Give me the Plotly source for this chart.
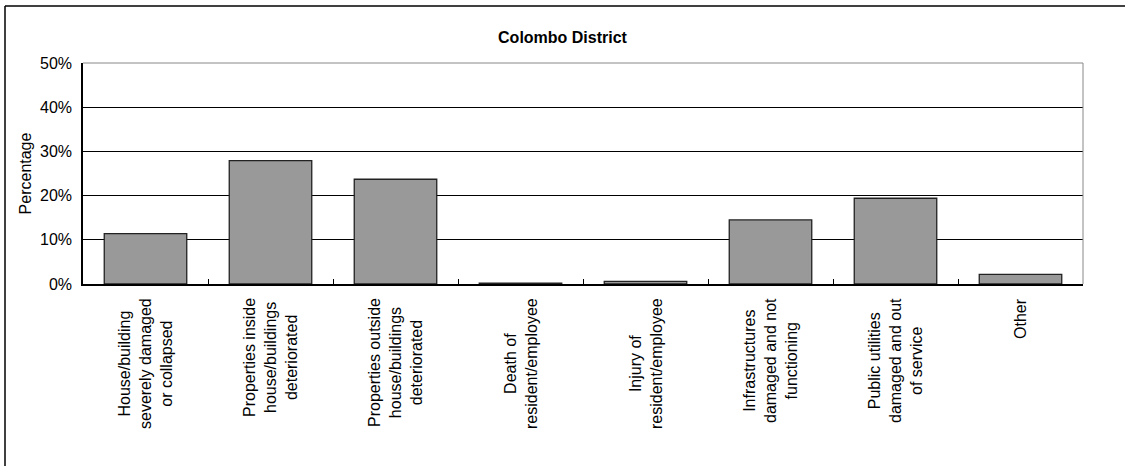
import plotly.graph_objects as go

categories = [
    "House/building<br>severely damaged<br>or collapsed",
    "Properties inside<br>house/buildings<br>deteriorated",
    "Properties outside<br>house/buildings<br>deteriorated",
    "Death of<br>resident/employee",
    "Injury of<br>resident/employee",
    "Infrastructures<br>damaged and not<br>functioning",
    "Public utilities<br>damaged and out<br>of service",
    "Other",
]
values = [11.4, 27.9, 23.7, 0.2, 0.6, 14.5, 19.4, 2.2]
y_ticks = [0, 10, 20, 30, 40, 50]
title_text = "Colombo District"
y_title = "Percentage"

FONT = "Liberation Sans, Arial, sans-serif"

fig = go.Figure()
fig.add_trace(go.Bar(
    x=list(range(len(categories))),
    y=values,
    marker=dict(color="#999999", line=dict(color="#222222", width=1.3)),
    hoverinfo="skip",
))

# centered, rotated category labels
for i, lab in enumerate(categories):
    fig.add_annotation(
        x=i, xref="x", y=0, yref="paper",
        text=lab, textangle=-90, align="center",
        xanchor="center", yanchor="top", yshift=-12,
        showarrow=False,
        font=dict(family=FONT, size=16, color="black"),
    )

# outer frame (left and top edges)
fig.add_shape(type="line", xref="paper", yref="paper",
              x0=-0.078, x1=-0.078, y0=-0.83, y1=1.258,
              line=dict(color="black", width=1.5))
fig.add_shape(type="line", xref="paper", yref="paper",
              x0=-0.078, x1=1.05, y0=1.258, y1=1.258,
              line=dict(color="black", width=1.5))
# plot area top/right border (gray)
fig.add_shape(type="line", xref="paper", yref="paper",
              x0=0, x1=1, y0=1, y1=1, line=dict(color="#888888", width=1))
fig.add_shape(type="line", xref="paper", yref="paper",
              x0=1, x1=1, y0=0, y1=1, line=dict(color="#888888", width=1))

fig.update_layout(
    width=1125, height=466,
    margin=dict(l=83, r=42, t=63, b=182),
    paper_bgcolor="white", plot_bgcolor="white",
    showlegend=False,
    bargap=0.34,
    font=dict(family=FONT, color="black"),
    title=dict(text="<b>" + title_text + "</b>", x=0.5, xanchor="center",
               y=1 - 37 / 466, yanchor="middle",
               font=dict(family=FONT, size=16, color="black")),
    xaxis=dict(
        range=[-0.5, len(categories) - 0.5],
        tickmode="array", tickvals=[i + 0.5 for i in range(len(categories) - 1)],
        ticktext=[""] * (len(categories) - 1),
        ticks="inside", ticklen=5, tickcolor="black", tickwidth=1,
        showgrid=False, zeroline=False,
        showline=True, linecolor="black", linewidth=1.5,
        fixedrange=True,
    ),
    yaxis=dict(
        range=[0, 50], tickvals=y_ticks,
        ticktext=[f"{v}%" for v in y_ticks],
        tickfont=dict(family=FONT, size=16, color="black"),
        showgrid=True, gridcolor="black", gridwidth=1,
        zeroline=False, showline=True, linecolor="black", linewidth=1.5,
        ticks="", ticklabelstandoff=6,
        title=dict(text=y_title, font=dict(family=FONT, size=16, color="black"), standoff=4),
        fixedrange=True,
    ),
)

fig.write_html("out.html", config={"displayModeBar": False},
               post_script="document.body.style.margin='0';")
